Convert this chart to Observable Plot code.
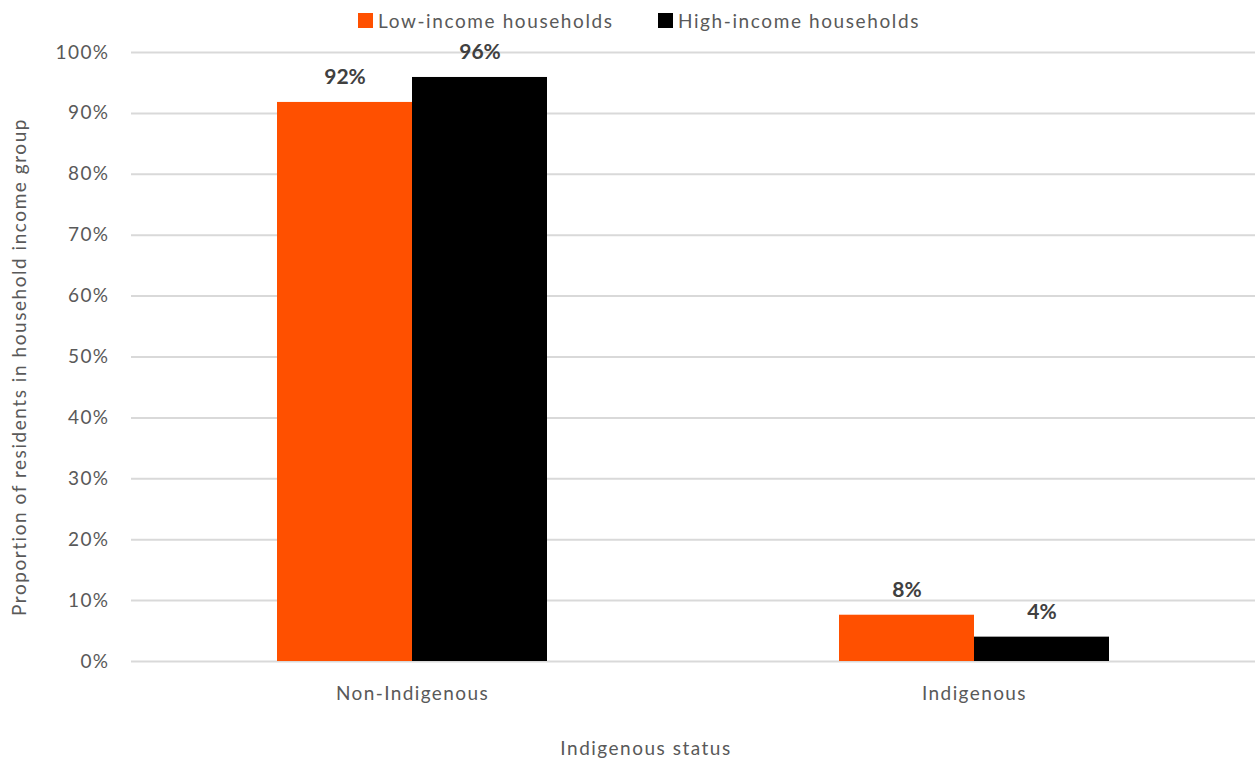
<!DOCTYPE html>
<html>
<head>
<meta charset="utf-8">
<script src="https://cdn.jsdelivr.net/npm/d3@7"></script>
<script src="https://cdn.jsdelivr.net/npm/@observablehq/plot@0.6"></script>
<style>
  body { margin: 0; background: #fff; font-family: Lato, "Open Sans", sans-serif; }
  #wrap { position: relative; width: 1255px; height: 761px; }
  #legend { position: absolute; top: 0; left: 0; width: 1255px; height: 40px; z-index: 2; }
  .lg { position: absolute; top: 9px; display: flex; align-items: center; font-size: 19px; color: #595959; letter-spacing: 1.6px; white-space: nowrap; }
  .sw { width: 15px; height: 15px; margin-right: 5px; }
  #chart { position: absolute; top: 0; left: 0; z-index: 1; }
  #xlabel { position: absolute; top: 736px; left: 646px; transform: translateX(-50%); font-size: 19px; color: #595959; white-space: nowrap; letter-spacing: 1.5px; }
</style>
</head>
<body>
<div id="wrap">
  <div id="chart"></div>
  <div id="legend"></div>
  <div id="xlabel"></div>
</div>
<script>
const categories = ["Non-Indigenous", "Indigenous"];
const seriesNames = ["Low-income households", "High-income households"];
const lowIncome = [91.8, 7.6];
const highIncome = [95.9, 4.0];
const colors = ["#FF5000", "#000000"];
const yTicks = [0, 10, 20, 30, 40, 50, 60, 70, 80, 90, 100];
const yTitle = "Proportion of residents in household income group";
const xTitle = "Indigenous status";

const data = [];
categories.forEach((c, i) => {
  data.push({cat: c, series: seriesNames[0], value: lowIncome[i]});
  data.push({cat: c, series: seriesNames[1], value: highIncome[i]});
});

// legend
const legend = document.getElementById("legend");
const legendX = [358, 658];
seriesNames.forEach((s, i) => {
  const d = document.createElement("div");
  d.className = "lg";
  d.style.left = legendX[i] + "px";
  d.innerHTML = `<span class="sw" style="background:${colors[i]}"></span><span>${s}</span>`;
  legend.appendChild(d);
});
document.getElementById("xlabel").textContent = xTitle;

const chart = Plot.plot({
  width: 1255,
  height: 730,
  marginTop: 52,
  marginLeft: 131,
  marginRight: 0,
  marginBottom: 69,
  style: {fontFamily: "Lato, 'Open Sans', sans-serif", fontSize: "19px", color: "#595959", background: "transparent"},
  fx: {domain: categories, padding: 0, label: null},
  x: {domain: seriesNames, paddingInner: 0, paddingOuter: 1.08, axis: null},
  y: {domain: [0, 100], label: null},
  color: {domain: seriesNames, range: colors},
  marks: [
    Plot.gridY(yTicks, {stroke: "#d9d9d9", strokeOpacity: 1, strokeWidth: 2}),
    Plot.axisY(yTicks, {tickSize: 0, tickPadding: 22, tickFormat: d => d + "%", fill: "#595959",
      label: yTitle, labelAnchor: "center", labelArrow: "none", labelOffset: 119}),
    Plot.axisFx({anchor: "bottom", tickSize: 0, tickPadding: 25, label: null, fill: "#595959"}),
    Plot.barY(data, {fx: "cat", x: "series", y: "value", fill: "series"}),
    Plot.text(data, {fx: "cat", x: "series", y: "value", text: d => Math.round(d.value) + "%",
      lineAnchor: "bottom", dy: -18, fontWeight: "bold", fontSize: 21, fill: "#404040"})
  ]
});
d3.select(chart).selectAll('g[aria-label="y-axis tick label"] text, g[aria-label="fx-axis tick label"] text')
  .style("letter-spacing", "1.4px");
d3.select(chart).selectAll('g[aria-label="y-axis label"] text').style("letter-spacing", "1.55px").attr("dx", -10);
document.getElementById("chart").appendChild(chart);
</script>
</body>
</html>
